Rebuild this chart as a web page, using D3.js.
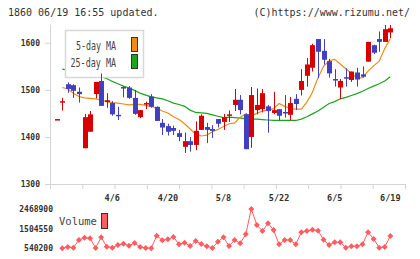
<!DOCTYPE html>
<html>
<head>
<meta charset="utf-8">
<script src="https://cdn.jsdelivr.net/npm/d3@7"></script>
<style>
  body { margin: 0; background: #fff; }
  svg { display: block; font-family: "DejaVu Sans Mono", monospace; }
</style>
</head>
<body>
<svg id="chart" width="420" height="259"></svg>
<script>
// daily candles, index 0 = oldest (3/24 ... 6/19)
var open  = [1438,1474,1512,1510,1496,1376,1411,1491,1519,1474,1472,1447,1506,1505,1483,1442,1469,1486,1464,1430,1423,1419,1408,1379,1391,1383,1415,1421,1417,1438,1432,1445,1468,1479,1448,1400,1457,1459,1465,1451,1459,1453,1447,1481,1500,1530,1547,1608,1583,1561,1523,1505,1527,1521,1537,1533,1560,1595,1608,1602,1622];
var high  = [1438,1483,1516,1512,1505,1449,1455,1517,1535,1493,1476,1464,1508,1508,1500,1457,1475,1491,1465,1438,1428,1424,1415,1409,1400,1433,1448,1430,1425,1438,1449,1456,1502,1489,1450,1506,1503,1502,1468,1496,1459,1489,1485,1491,1544,1568,1598,1608,1608,1566,1544,1523,1546,1539,1547,1550,1602,1596,1624,1638,1638];
var low   = [1438,1456,1494,1483,1473,1376,1411,1482,1466,1462,1445,1436,1484,1481,1447,1440,1459,1462,1434,1404,1403,1404,1391,1366,1369,1372,1415,1387,1398,1420,1415,1432,1455,1448,1374,1377,1448,1452,1409,1448,1435,1441,1435,1457,1488,1507,1539,1525,1554,1526,1507,1481,1507,1517,1507,1526,1560,1576,1581,1602,1610];
var close = [1438,1476,1502,1498,1491,1442,1448,1517,1466,1478,1448,1444,1503,1483,1449,1457,1472,1464,1434,1420,1411,1413,1400,1391,1383,1413,1445,1415,1413,1428,1442,1448,1479,1457,1374,1489,1468,1493,1455,1457,1445,1452,1472,1470,1519,1554,1595,1581,1564,1535,1520,1519,1525,1539,1522,1528,1602,1579,1602,1629,1631];
var ma5   = [null,1505,1502,1493,1486,1483,1482,1481,1478,1475,1473,1472,1470,1468,1469,1469,1467,1465,1461,1455,1451,1443,1437,1428,1417,1406,1402,1404,1411,1416,1422,1428,1430,1442,1449,1445,1450,1455,1457,1460,1471,1465,1461,1459,1459,1474,1495,1526,1550,1562,1565,1555,1545,1535,1525,1526,1540,1551,1561,1588,1609];
var ma25  = [null,1544,1542,1540,1538,1536,1533,1531,1528,1524,1518,1513,1508,1504,1499,1493,1489,1485,1483,1481,1477,1472,1469,1465,1457,1452,1451,1450,1447,1444,1441,1442,1441,1440,1439,1438,1438,1437,1436,1435,1435,1435,1435,1435,1438,1443,1449,1455,1463,1471,1475,1481,1484,1488,1492,1497,1503,1508,1513,1519,1528];
var volume = [null,540200,604000,570000,947000,1060000,1031000,560000,1080000,619000,570000,702000,766000,668000,800000,604000,555000,545000,1158000,933000,982000,1095000,737000,815000,653000,898000,751000,638000,560000,864000,1080000,653000,947000,786000,1227000,2468900,1684000,1389000,1767000,1438000,737000,947000,947000,737000,1325000,1389000,1453000,1404000,962000,702000,835000,835000,570000,638000,638000,737000,1325000,997000,570000,604000,1144000];

var dateTicks = [10, 20, 30, 40, 50, 60];
var dateLabels = ["4/6", "4/20", "5/8", "5/22", "6/5", "6/19"];
var priceTicks = [1300, 1400, 1500, 1600];

var upColor = "#d90000", downColor = "#4040c0";
var ma5Color = "#f08c10", ma25Color = "#1aa51a", volColor = "#ff5c60";

var svg = d3.select("#chart");
svg.append("rect").attr("width", 420).attr("height", 259).attr("fill", "#fff");

var n = close.length;
var x = d3.scaleLinear().domain([0, n - 1]).range([56.7, 390.3]);
var y = d3.scaleLinear().domain([1300, 1640]).range([184, 24]);
var gridX = d3.scaleLinear().domain([0, 11]).range([50, 405]);

// header
svg.append("text").attr("x", 8).attr("y", 16).attr("font-size", 10).attr("fill", "#333")
   .text("1860 06/19 16:55 updated.");
svg.append("text").attr("x", 410).attr("y", 16).attr("font-size", 10).attr("fill", "#333")
   .attr("text-anchor", "end").text("(C)https://www.rizumu.net/");

// axes
var yAxis = svg.append("g").attr("transform", "translate(50,0)")
   .call(d3.axisLeft(y).tickValues(priceTicks).tickFormat(d3.format("d"))
          .tickSize(5).tickPadding(5).tickSizeOuter(0));
var xAxis = svg.append("g").attr("transform", "translate(0,184)")
   .call(d3.axisBottom(gridX).ticks(11).tickSize(5).tickSizeOuter(0).tickFormat(""));
[yAxis, xAxis].forEach(function(g) {
  g.selectAll("path, line").attr("stroke", "#d4d4d4");
  g.selectAll("text").attr("font-family", "DejaVu Sans Mono").attr("font-size", 8)
   .attr("font-weight", "bold").attr("fill", "#333");
});

svg.selectAll(".dlabel").data(dateTicks).enter().append("text")
   .attr("class", "dlabel")
   .attr("x", function(d) { return x(d); })
   .attr("y", 201)
   .attr("text-anchor", "middle")
   .attr("font-size", 8.5).attr("font-weight", "bold").attr("fill", "#333")
   .text(function(d, i) { return dateLabels[i]; });

// moving averages
function maLine(arr) {
  return d3.line()
    .defined(function(d) { return d != null; })
    .x(function(d, i) { return x(i); })
    .y(function(d) { return y(d); })(arr);
}
svg.append("path").attr("d", maLine(ma25)).attr("fill", "none")
   .attr("stroke", ma25Color).attr("stroke-width", 1.2);
svg.append("path").attr("d", maLine(ma5)).attr("fill", "none")
   .attr("stroke", ma5Color).attr("stroke-width", 1.2);

// legend box
var lg = svg.append("g");
lg.append("rect").attr("x", 65.5).attr("y", 30.5).attr("width", 78).attr("height", 47)
  .attr("fill", "#fff").attr("stroke", "#d8d8d8").attr("stroke-width", 1.5);
[["5-day MA", ma5Color, 49.5, 40], ["25-day MA", ma25Color, 66.5, 45.5]].forEach(function(it, k) {
  lg.append("text").attr("x", 116).attr("y", it[2]).attr("text-anchor", "end")
    .attr("font-size", 11.5).attr("fill", "#444")
    .attr("textLength", it[3]).attr("lengthAdjust", "spacingAndGlyphs").text(it[0]);
  lg.append("rect").attr("x", 131.5).attr("y", 37.5 + k * 17).attr("width", 6).attr("height", 14)
    .attr("fill", it[1]).attr("stroke", "#333");
});

// candles
var candles = svg.append("g").selectAll("g").data(d3.range(n)).enter().append("g")
   .attr("fill", function(i) { return close[i] >= open[i] ? upColor : downColor; })
   .attr("stroke", function(i) { return close[i] >= open[i] ? upColor : downColor; });
candles.append("line")
   .attr("x1", function(i) { return Math.round(x(i)) + 0.5; })
   .attr("x2", function(i) { return Math.round(x(i)) + 0.5; })
   .attr("y1", function(i) { return y(high[i]); })
   .attr("y2", function(i) { return y(low[i]); })
   .attr("stroke-width", 1);
candles.append("rect")
   .attr("x", function(i) { return Math.round(x(i)) - 2; })
   .attr("width", 5)
   .attr("y", function(i) { return y(Math.max(open[i], close[i])); })
   .attr("height", function(i) { return Math.max(1.5, Math.abs(y(open[i]) - y(close[i]))); })
   .attr("stroke", "none");

// volume
var vmin = d3.min(volume), vmax = d3.max(volume);
var vy = d3.scaleLinear().domain([vmin, vmax]).range([248.3, 209]);
var volAxis = svg.append("g").attr("transform", "translate(53,0)")
   .call(d3.axisLeft(vy).tickValues([vmin, (vmin + vmax) / 2, vmax]).tickFormat(d3.format("d"))
          .tickSize(0).tickPadding(0));
volAxis.select(".domain").remove();
volAxis.selectAll("text").attr("font-family", "DejaVu Sans Mono").attr("font-size", 8)
   .attr("font-weight", "bold").attr("fill", "#333");

svg.append("text").attr("x", 59).attr("y", 225).attr("font-size", 10.5).attr("fill", "#444").text("Volume");
svg.append("rect").attr("x", 101.5).attr("y", 213.5).attr("width", 6).attr("height", 15)
   .attr("fill", volColor).attr("stroke", "#333");

var vpts = d3.range(n).filter(function(i) { return volume[i] != null; });
svg.append("path")
   .attr("d", d3.line().x(function(i) { return x(i); }).y(function(i) { return vy(volume[i]); })(vpts))
   .attr("fill", "none").attr("stroke", volColor).attr("stroke-width", 1);
svg.append("g").selectAll("path").data(vpts).enter().append("path")
   .attr("d", "M0,-3L3,0L0,3L-3,0Z")
   .attr("transform", function(i) { return "translate(" + x(i) + "," + vy(volume[i]) + ")"; })
   .attr("fill", volColor);
</script>
</body>
</html>
